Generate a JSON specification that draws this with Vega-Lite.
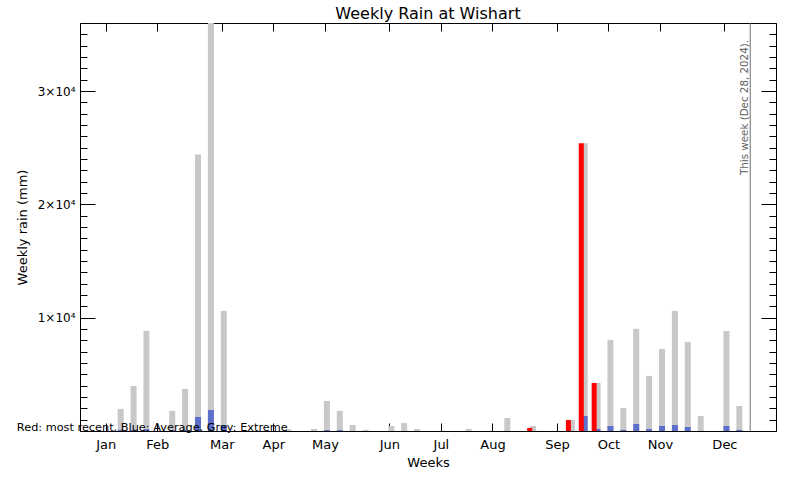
{
  "$schema": "https://vega.github.io/schema/vega-lite/v6.json",
  "width": 696,
  "height": 408,
  "autosize": "none",
  "padding": {"left": 80, "top": 23, "right": 24, "bottom": 49},
  "background": "white",
  "title": {"text": "Weekly Rain at Wishart", "fontSize": 16, "fontWeight": "normal", "font": "DejaVu Sans", "color": "black", "offset": -5, "anchor": "middle"},
  "config": {
    "view": {"stroke": null},
    "font": "DejaVu Sans",
    "axis": {"domainColor": "black", "tickColor": "black", "labelColor": "black", "titleColor": "black", "grid": false, "titleFontWeight": "normal", "labelFont": "DejaVu Sans", "titleFont": "DejaVu Sans"}
  },
  "data": {"values": [
    {"week": 1, "extreme": 0, "average": 0, "recent": 0},
    {"week": 2, "extreme": 0, "average": 0, "recent": 0},
    {"week": 3, "extreme": 1950, "average": 100, "recent": 0},
    {"week": 4, "extreme": 3970, "average": 100, "recent": 0},
    {"week": 5, "extreme": 8830, "average": 150, "recent": 0},
    {"week": 6, "extreme": 0, "average": 0, "recent": 0},
    {"week": 7, "extreme": 1770, "average": 60, "recent": 0},
    {"week": 8, "extreme": 3710, "average": 100, "recent": 0},
    {"week": 9, "extreme": 24400, "average": 1240, "recent": 0},
    {"week": 10, "extreme": 36000, "average": 1850, "recent": 0},
    {"week": 11, "extreme": 10600, "average": 530, "recent": 0},
    {"week": 12, "extreme": 0, "average": 0, "recent": 0},
    {"week": 13, "extreme": 0, "average": 0, "recent": 0},
    {"week": 14, "extreme": 0, "average": 0, "recent": 0},
    {"week": 15, "extreme": 0, "average": 0, "recent": 0},
    {"week": 16, "extreme": 180, "average": 0, "recent": 0},
    {"week": 17, "extreme": 0, "average": 0, "recent": 0},
    {"week": 18, "extreme": 180, "average": 0, "recent": 0},
    {"week": 19, "extreme": 2650, "average": 80, "recent": 0},
    {"week": 20, "extreme": 1770, "average": 80, "recent": 0},
    {"week": 21, "extreme": 530, "average": 0, "recent": 0},
    {"week": 22, "extreme": 100, "average": 0, "recent": 0},
    {"week": 23, "extreme": 0, "average": 0, "recent": 0},
    {"week": 24, "extreme": 440, "average": 0, "recent": 0},
    {"week": 25, "extreme": 700, "average": 0, "recent": 0},
    {"week": 26, "extreme": 180, "average": 0, "recent": 0},
    {"week": 27, "extreme": 0, "average": 0, "recent": 0},
    {"week": 28, "extreme": 0, "average": 0, "recent": 0},
    {"week": 29, "extreme": 0, "average": 0, "recent": 0},
    {"week": 30, "extreme": 180, "average": 0, "recent": 0},
    {"week": 31, "extreme": 0, "average": 0, "recent": 0},
    {"week": 32, "extreme": 0, "average": 0, "recent": 0},
    {"week": 33, "extreme": 1150, "average": 0, "recent": 0},
    {"week": 34, "extreme": 0, "average": 0, "recent": 0},
    {"week": 35, "extreme": 440, "average": 0, "recent": 270},
    {"week": 36, "extreme": 0, "average": 0, "recent": 0},
    {"week": 37, "extreme": 0, "average": 0, "recent": 0},
    {"week": 38, "extreme": 970, "average": 0, "recent": 970},
    {"week": 39, "extreme": 25400, "average": 1320, "recent": 25400},
    {"week": 40, "extreme": 4240, "average": 180, "recent": 4240},
    {"week": 41, "extreme": 8040, "average": 440, "recent": 0},
    {"week": 42, "extreme": 2030, "average": 100, "recent": 0},
    {"week": 43, "extreme": 9010, "average": 620, "recent": 0},
    {"week": 44, "extreme": 4860, "average": 180, "recent": 0},
    {"week": 45, "extreme": 7240, "average": 440, "recent": 0},
    {"week": 46, "extreme": 10600, "average": 530, "recent": 0},
    {"week": 47, "extreme": 7860, "average": 350, "recent": 0},
    {"week": 48, "extreme": 1320, "average": 0, "recent": 0},
    {"week": 49, "extreme": 0, "average": 0, "recent": 0},
    {"week": 50, "extreme": 8830, "average": 440, "recent": 0},
    {"week": 51, "extreme": 2210, "average": 100, "recent": 0},
    {"week": 52, "extreme": 0, "average": 0, "recent": 0}
  ]},
  "layer": [
    {
      "transform": [{"filter": "datum.extreme > 0"}],
      "mark": {"type": "bar", "width": 6, "xOffset": 2, "color": "#c8c8c8"},
      "encoding": {
        "x": {"field": "week", "type": "quantitative",
          "scale": {"domain": [0, 54], "nice": false, "zero": false, "padding": 0},
          "axis": {"orient": "bottom", "values": [2, 6, 11, 15, 19, 24, 28, 32, 37, 41, 45, 50],
            "labelExpr": "['Jan','Feb','Mar','Apr','May','Jun','Jul','Aug','Sep','Oct','Nov','Dec'][indexof([2,6,11,15,19,24,28,32,37,41,45,50], datum.value)]",
            "tickSize": -8, "labelPadding": 15, "labelFontSize": 13, "labelFlush": false, "labelOverlap": false,
            "title": "Weeks", "titleFontSize": 13, "titleX": 348, "titleY": 31, "titleBaseline": "middle", "titleAlign": "center"}},
        "y": {"field": "extreme", "type": "quantitative",
          "scale": {"domain": [0, 36000], "nice": false, "padding": 0},
          "axis": {"orient": "left",
            "values": [0,1000,2000,3000,4000,5000,6000,7000,8000,9000,10000,11000,12000,13000,14000,15000,16000,17000,18000,19000,20000,21000,22000,23000,24000,25000,26000,27000,28000,29000,30000,31000,32000,33000,34000,35000,36000],
            "labelExpr": "datum.value > 0 && datum.value % 10000 === 0 ? (datum.value / 10000) + '×10⁴' : ''",
            "tickSize": {"condition": {"test": "datum.value % 10000 === 0", "value": -15}, "value": -7},
            "labelPadding": 20, "labelFontSize": 12, "labelFlush": false, "labelOverlap": false, "labelBaseline": "middle",
            "title": "Weekly rain (mm)", "titleFontSize": 13, "titleX": -58, "titleY": 204, "titleAngle": 270, "titleBaseline": "middle", "titleAlign": "center"}}
      }
    },
    {
      "transform": [{"filter": "datum.average > 0"}],
      "mark": {"type": "bar", "width": 6, "xOffset": 2, "color": "#5c6fcb"},
      "encoding": {
        "x": {"field": "week", "type": "quantitative", "axis": null},
        "y": {"field": "average", "type": "quantitative",
          "axis": {"orient": "right",
            "values": [0,1000,2000,3000,4000,5000,6000,7000,8000,9000,10000,11000,12000,13000,14000,15000,16000,17000,18000,19000,20000,21000,22000,23000,24000,25000,26000,27000,28000,29000,30000,31000,32000,33000,34000,35000,36000],
            "labels": false,
            "tickSize": {"condition": {"test": "datum.value % 10000 === 0", "value": -15}, "value": -7},
            "title": null}}
      }
    },
    {
      "transform": [{"filter": "datum.recent > 0"}],
      "mark": {"type": "bar", "width": 5, "xOffset": -1.4, "color": "#ff0000"},
      "encoding": {
        "x": {"field": "week", "type": "quantitative",
          "axis": {"orient": "top", "values": [2, 6, 11, 15, 19, 24, 28, 32, 37, 41, 45, 50], "labels": false, "tickSize": -8, "title": null}},
        "y": {"field": "recent", "type": "quantitative", "axis": null}
      }
    },
    {
      "data": {"values": [{"week": 52, "label": "This week (Dec 28, 2024)."}]},
      "mark": {"type": "rule", "color": "#707070", "strokeWidth": 1},
      "encoding": {
        "x": {"field": "week", "type": "quantitative", "axis": null}
      }
    },
    {
      "data": {"values": [{"week": 52, "label": "This week (Dec 28, 2024)."}]},
      "mark": {"type": "text", "angle": 270, "align": "right", "baseline": "alphabetic", "dy": -2, "fontSize": 10.3, "font": "DejaVu Sans", "color": "#606060"},
      "encoding": {
        "x": {"field": "week", "type": "quantitative", "axis": null},
        "y": {"datum": 34500, "type": "quantitative", "axis": null},
        "text": {"field": "label"}
      }
    },
    {
      "data": {"values": [{"label": "Red: most recent, Blue: Average, Grey: Extreme"}]},
      "mark": {"type": "text", "align": "left", "baseline": "alphabetic", "fontSize": 11.3, "font": "DejaVu Sans", "color": "black"},
      "encoding": {
        "x": {"datum": -4.9, "type": "quantitative", "axis": null},
        "y": {"datum": 0, "type": "quantitative", "axis": null},
        "text": {"field": "label"}
      }
    }
  ],
  "resolve": {"axis": {"x": "independent", "y": "independent"}}
}
